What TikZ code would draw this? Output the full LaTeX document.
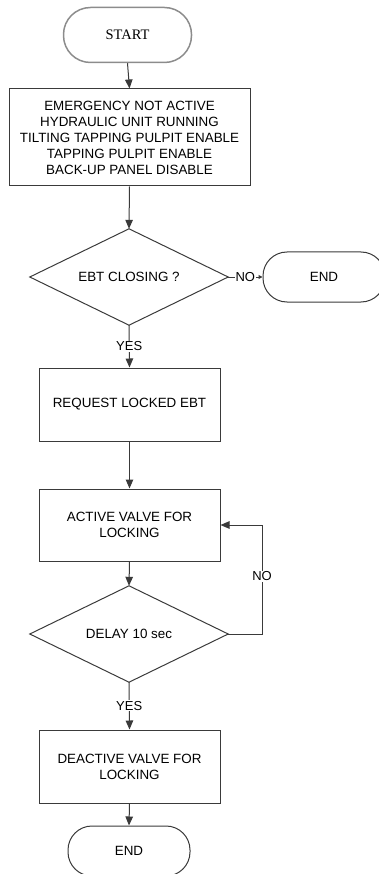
\documentclass[tikz,border=0pt]{standalone}
\usepackage{fontspec}
\setmainfont{Liberation Sans}
\newfontfamily\serifstart{Liberation Serif}
\usetikzlibrary{arrows.meta}
\definecolor{linec}{HTML}{3A3A3A}
\definecolor{startc}{HTML}{8C8C8C}
\begin{document}
\begin{tikzpicture}[x=1pt,y=-1pt,
  every node/.style={font=\fontsize{13.4}{16}\selectfont, text=black},
  procbox/.style={draw=linec, line width=1pt, rectangle, inner sep=0pt, align=center},
  decbox/.style={rectangle, inner sep=0pt, minimum width=198pt, minimum height=96pt},
  diamline/.style={draw=linec, line width=1pt, line join=miter},
  termbox/.style={draw=linec, line width=1pt, rectangle, rounded corners=24pt, inner sep=0pt, minimum width=122pt, minimum height=50pt},
  flow/.style={draw=linec, line width=1pt, -{Triangle[length=9pt,width=7.5pt]}},
  smallflow/.style={draw=linec, line width=1pt, -{Triangle[length=4pt,width=4pt]}},
  lbl/.style={fill=white, inner sep=1pt, font=\fontsize{13}{15}\selectfont}
]
\useasboundingbox (0,0) rectangle (379,874);
\clip (0,0) rectangle (379,874);

\node[draw=startc, line width=1.5pt, rectangle, rounded corners=27pt, inner sep=0pt,
      minimum width=128pt, minimum height=55pt, font=\serifstart\fontsize{14.5}{16}\selectfont]
      (start) at (127.5,35) {START};
\node[procbox, minimum width=241pt, minimum height=97pt] (b1) at (129.5,137.5)
  {EMERGENCY NOT ACTIVE\\HYDRAULIC UNIT RUNNING\\TILTING TAPPING PULPIT ENABLE\\TAPPING PULPIT ENABLE\\BACK-UP PANEL DISABLE};
\node[decbox] (d1) at (129,277) {EBT CLOSING ?};
\draw[diamline] (d1.north) -- (d1.east) -- (d1.south) -- (d1.west) -- cycle;
\node[termbox] (endA) at (324,277) {END};
\node[procbox, minimum width=181pt, minimum height=73pt] (b2) at (129.5,404.5) {REQUEST LOCKED EBT};
\node[procbox, minimum width=181pt, minimum height=72pt] (b3) at (129.5,525) {ACTIVE VALVE FOR\\LOCKING};
\node[decbox] (d2) at (129,634) {DELAY 10 sec};
\draw[diamline] (d2.north) -- (d2.east) -- (d2.south) -- (d2.west) -- cycle;
\node[procbox, minimum width=181pt, minimum height=73pt] (b4) at (129.5,766.5) {DEACTIVE VALVE FOR\\LOCKING};
\node[termbox] (endB) at (129,851) {END};

\coordinate (c1) at (262,634);
\coordinate (c2) at (262,525);

\draw[flow] (start.south) -- (b1.north);
\draw[flow] (b1.south) -- (d1.north);
\draw[smallflow] (d1.east) -- node[lbl, inner sep=0.5pt] {NO} (endA.west);
\draw[flow] (d1.south) -- node[lbl, pos=0.5] {YES} (b2.north);
\draw[flow] (b2.south) -- (b3.north);
\draw[flow] (b3.south) -- (d2.north);
\draw[flow] (d2.east) -- (c1) -- node[lbl, pos=0.53] {NO} (c2) -- (b3.east);
\draw[flow] (d2.south) -- node[lbl, pos=0.5] {YES} (b4.north);
\draw[flow] (b4.south) -- (endB.north);
\end{tikzpicture}
\end{document}
